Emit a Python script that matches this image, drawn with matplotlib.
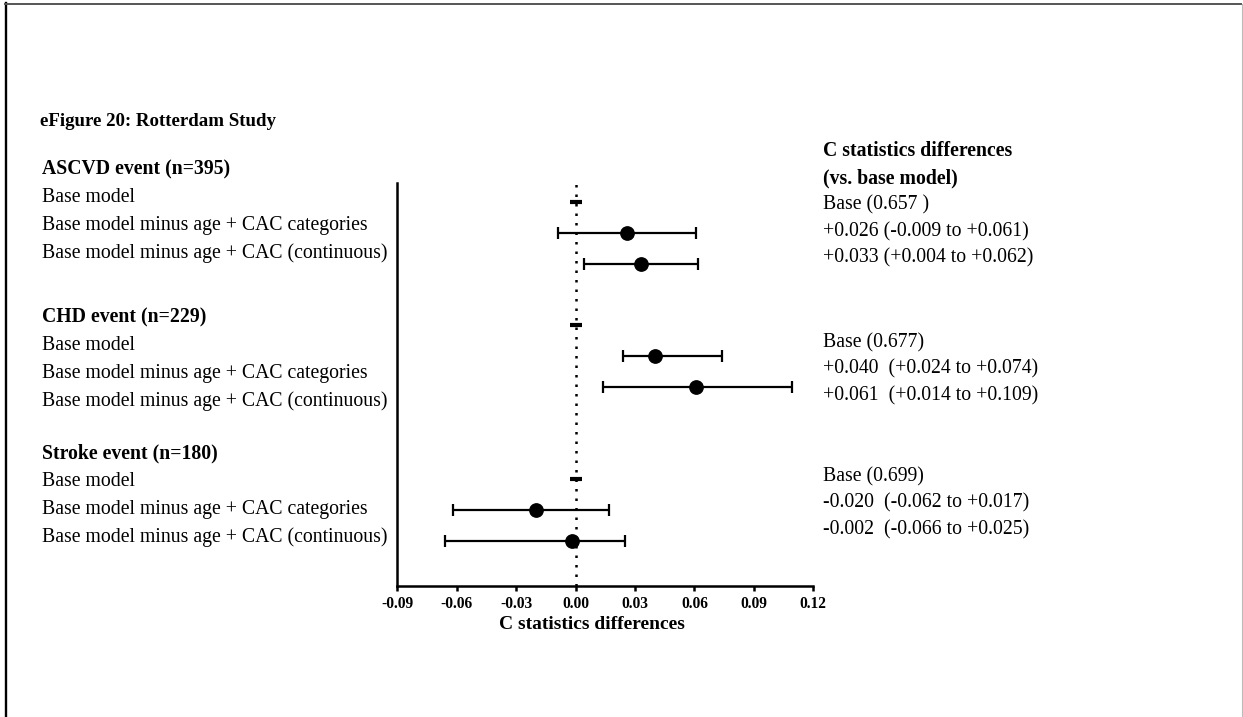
import matplotlib
matplotlib.use("Agg")
import matplotlib.pyplot as plt
from matplotlib.lines import Line2D

plt.rcParams["font.family"] = ["Liberation Serif", "DejaVu Serif"]
plt.rcParams["axes.unicode_minus"] = False

# --- data -------------------------------------------------------------
title = "eFigure 20: Rotterdam Study"
groups = ["ASCVD event (n=395)", "CHD event (n=229)", "Stroke event (n=180)"]
models = ["Base model",
          "Base model minus age + CAC categories",
          "Base model minus age + CAC (continuous)"]
base_labels = ["Base (0.657 )", "Base (0.677)", "Base (0.699)"]

# C statistic differences vs. base model, with 95% CI
cat_est = [0.026, 0.040, -0.020]
cat_lo = [-0.009, 0.024, -0.062]
cat_hi = [0.061, 0.074, 0.017]
cont_est = [0.033, 0.061, -0.002]
cont_lo = [0.004, 0.014, -0.066]
cont_hi = [0.062, 0.109, 0.025]

xticks = [-0.09, -0.06, -0.03, 0.00, 0.03, 0.06, 0.09, 0.12]
xlabel = "C statistics differences"
right_header = ["C statistics differences", "(vs. base model)"]

# --- layout -----------------------------------------------------------
W, H = 1243, 717
FS = 14.25
group_start = [0, 4, 9]          # first plot row of each group
left_y = [169, 317, 453]         # header row of each text block (px)
right_y = [205, 342.7, 476.7]
label_gap = [" ", "  ", "  "]    # spacing between estimate and CI


def fx(x):
    return x / W


def fy(y):
    return 1 - y / H


fig = plt.figure(figsize=(W / 100, H / 100), dpi=100)

ax = fig.add_axes([fx(397.3), fy(586), (813.3 - 397.3) / W, (586 - 183) / H])
ax.set_xlim(-0.09, 0.12)
ax.set_ylim(12.46, -0.62)
for s in ("top", "right"):
    ax.spines[s].set_visible(False)
for s in ("left", "bottom"):
    ax.spines[s].set_linewidth(1.8)
ax.set_yticks([])
ax.set_xticks(xticks)
ax.set_xticklabels([f"{v:.2f}" for v in xticks], fontweight="bold", fontsize=11.2)
ax.tick_params(axis="x", direction="out", length=3.6, width=1.8, pad=3.5)

ax.axvline(0, color="black", lw=1.8, ls=(0, (1, 2.8)), zorder=1)

for g in range(3):
    r0 = group_start[g]
    ax.plot(0, r0, marker="_", ms=9, mew=3, color="black", zorder=3)
    est = [cat_est[g], cont_est[g]]
    lo = [cat_lo[g], cont_lo[g]]
    hi = [cat_hi[g], cont_hi[g]]
    err = [[e - l for e, l in zip(est, lo)], [h - e for e, h in zip(est, hi)]]
    ax.errorbar(est, [r0 + 1, r0 + 2], xerr=err, fmt="o", ms=9.6, color="black",
                elinewidth=1.6, capsize=4.6, capthick=1.6, zorder=3)

fig.text(fx(591.7), fy(624.5), xlabel, ha="center", va="center",
         fontsize=14, fontweight="bold")

# left-hand row labels
fig.text(fx(39.5), fy(121), title, ha="left", va="center", fontsize=13.6,
         fontweight="bold")
step = 28.2
for g in range(3):
    fig.text(fx(41.5), fy(left_y[g]), groups[g], ha="left", va="center",
             fontsize=FS, fontweight="bold")
    for i, m in enumerate(models):
        fig.text(fx(41.5), fy(left_y[g] + step * (i + 1)), m, ha="left",
                 va="center", fontsize=FS)

# right-hand estimates column
fig.text(fx(823), fy(150.7), right_header[0], ha="left", va="center",
         fontsize=FS, fontweight="bold")
fig.text(fx(823), fy(178), right_header[1], ha="left", va="center",
         fontsize=FS, fontweight="bold")
step_r = 26.6
for g in range(3):
    lines = [base_labels[g],
             f"{cat_est[g]:+.3f}{label_gap[g]}({cat_lo[g]:+.3f} to {cat_hi[g]:+.3f})",
             f"{cont_est[g]:+.3f}{label_gap[g]}({cont_lo[g]:+.3f} to {cont_hi[g]:+.3f})"]
    for i, s in enumerate(lines):
        fig.text(fx(823), fy(right_y[g] + step_r * i), s, ha="left",
                 va="center", fontsize=FS)

# page frame
fig.add_artist(Line2D([fx(6), fx(6)], [fy(3), fy(717)], color="black", lw=1.7))
fig.add_artist(Line2D([fx(5), fx(1241)], [fy(4), fy(4)], color="#555555", lw=1.4))
fig.add_artist(Line2D([fx(1241.5), fx(1241.5)], [fy(4), fy(717)], color="#bbbbbb", lw=0.8))

fig.savefig("out.png", dpi=100)
